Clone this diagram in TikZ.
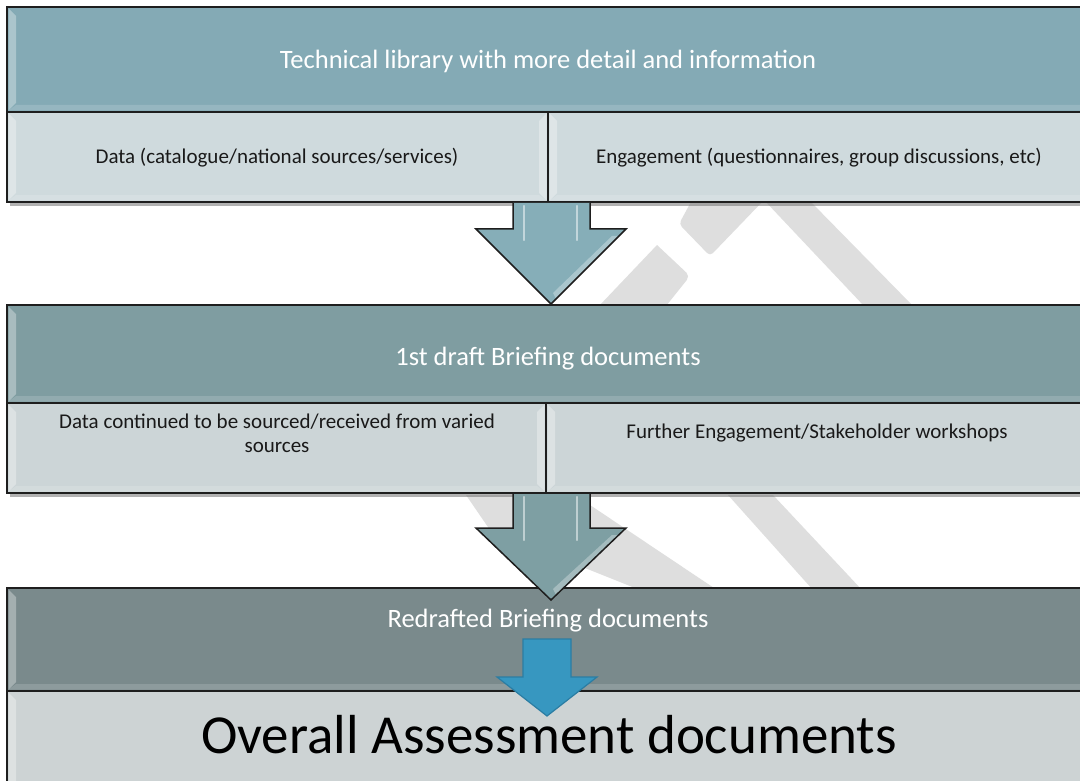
\documentclass[tikz,border=0pt]{standalone}
\usepackage{fontspec}
\setmainfont{Carlito}
\definecolor{hdrA}{HTML}{84AAB5}
\definecolor{subA}{HTML}{CFDADD}
\definecolor{hdrB}{HTML}{7F9DA1}
\definecolor{subB}{HTML}{CCD5D7}
\definecolor{hdrC}{HTML}{7A8A8C}
\definecolor{subC}{HTML}{CDD3D4}
\definecolor{arrA}{HTML}{86AEB8}
\definecolor{arrB}{HTML}{7E9FA3}
\definecolor{blueArr}{HTML}{3797C0}
\definecolor{blueEdge}{HTML}{2B7DA3}
\definecolor{wm}{HTML}{DEDEDE}
\definecolor{edge}{HTML}{1E1E1E}
\newcommand\cellbevel[4]{%
  \fill[bevel] (#1+1.5,#2+1.5) -- (#1+9,#2+9) -- (#1+9,#4-9) -- (#1+1.5,#4-1.5) -- cycle;
  \fill[bevel] (#3-1.5,#2+1.5) -- (#3-9,#2+9) -- (#3-9,#4-9) -- (#3-1.5,#4-1.5) -- cycle;
  \fill[bevelsoft] (#1+1.5,#4-1.5) -- (#1+9,#4-7) -- (#3-9,#4-7) -- (#3-1.5,#4-1.5) -- cycle;
}
\begin{document}
\begin{tikzpicture}[x=1pt,y=-1pt,
 cell/.style={draw=edge,line width=1.5pt,inner sep=0pt,outer sep=0pt,anchor=north west},
 hdrtext/.style={text=white,font=\fontsize{26.5}{30}\selectfont,anchor=base,inner sep=0pt},
 subtext/.style={text=black!90,font=\fontsize{21}{24}\selectfont,anchor=base,inner sep=0pt,align=center},
 bigtext/.style={text=black,font=\fontsize{55}{60}\selectfont,anchor=base,inner sep=0pt},
 blockarrow/.style={draw=edge,line width=1.5pt,line join=miter},
 blockshadow/.style={fill=black!55,opacity=0.55},
 bevel/.style={fill=white,opacity=0.32},
 bevelsoft/.style={fill=white,opacity=0.15},
 gloss/.style={draw=white,opacity=0.5,line width=2.2pt,line cap=round},
 glossband/.style={fill=white,opacity=0.3},
]
\useasboundingbox (0,0) rectangle (1080,781);
\fill[white] (0,0) rectangle (1080,781);

% watermark (visible parts)
\fill[wm] (764,200) -- (809,200) -- (913,306) -- (864,306) -- cycle;
\fill[wm] (692,200) -- (764,200) -- (713,253) [rounded corners=4pt] -- (710,256) -- (679,224) -- cycle;
\fill[wm] [rounded corners=5pt] (657,245) -- (690,276) [sharp corners] -- (666,306) -- (599,306) -- cycle;
\fill[wm] (466,495) -- (575,495) -- (717,590) -- (640,590) -- (490,530) -- cycle;
\fill[wm] (728,495) -- (773,495) -- (862,590) -- (813,590) -- cycle;

% block 1
\fill[blockshadow] (10,11) rectangle (1095,206);
\node[cell,fill=hdrA,minimum width=1083pt,minimum height=105pt] (h1) at (7,7) {};
\node[cell,fill=subA,minimum width=541pt,minimum height=90pt] (s1l) at (7,112) {};
\node[cell,fill=subA,minimum width=542pt,minimum height=90pt] (s1r) at (548,112) {};
\cellbevel{7}{7}{1090}{112}
\cellbevel{7}{112}{548}{202}
\cellbevel{548}{112}{1090}{202}

% block 2
\fill[blockshadow] (10,309) rectangle (1095,497);
\node[cell,fill=hdrB,minimum width=1083pt,minimum height=98pt] (h2) at (7,305) {};
\node[cell,fill=subB,minimum width=539pt,minimum height=90pt] (s2l) at (7,403) {};
\node[cell,fill=subB,minimum width=544pt,minimum height=90pt] (s2r) at (546,403) {};
\cellbevel{7}{305}{1090}{403}
\cellbevel{7}{403}{546}{493}
\cellbevel{546}{403}{1090}{493}

% block 3
\fill[blockshadow] (10,592) rectangle (1095,800);
\node[cell,fill=hdrC,minimum width=1083pt,minimum height=103pt] (h3) at (7,588) {};
\node[cell,fill=subC,minimum width=1083pt,minimum height=110pt] (s3) at (7,691) {};
\cellbevel{7}{588}{1090}{691}
\cellbevel{7}{691}{1090}{801}

% arrow 1
\fill[arrA] (513,203) -- (513,229) -- (476,229) -- (551,304) -- (626,229) -- (590,229) -- (590,203) -- cycle;
\fill[glossband] (612,236) -- (620,236) -- (556,299) -- (553,293) -- cycle;
\draw[blockarrow] (513,203) -- (513,229) -- (476,229) -- (551,304) -- (626,229) -- (590,229) -- (590,203);
\draw[gloss] (524,206) -- (524,240);
\draw[gloss] (577,206) -- (577,240);

% arrow 2
\fill[arrB] (513,494) -- (513,528) -- (476,528) -- (551,600) -- (626,528) -- (590,528) -- (590,494) -- cycle;
\fill[glossband] (612,535) -- (620,535) -- (556,595) -- (553,589) -- cycle;
\draw[blockarrow] (513,494) -- (513,528) -- (476,528) -- (551,600) -- (626,528) -- (590,528) -- (590,494);
\draw[gloss] (524,497) -- (524,540);
\draw[gloss] (577,497) -- (577,540);

% blue arrow
\filldraw[fill=blueArr,draw=blueEdge,line width=1.2pt,line join=miter]
  (523,639) -- (523,677) -- (497,677) -- (547,716) -- (597,677) -- (571,677) -- (571,639) -- cycle;

% texts
\node[hdrtext] (t1) at (548,69) {Technical library with more detail and information};
\node[subtext] (t1l) at (277,164) {Data (catalogue/national sources/services)};
\node[subtext] (t1r) at (819,164) {Engagement (questionnaires, group discussions, etc)};
\node[hdrtext] (t2) at (548,365) {1st draft Briefing documents};
\node[subtext] (t2l) at (277,452) {Data continued to be sourced/received from varied\\sources};
\node[subtext] (t2r) at (817,438) {Further Engagement/Stakeholder workshops};
\node[hdrtext] (t3) at (548,627) {Redrafted Briefing documents};
\node[bigtext] (t4) at (549,753) {Overall Assessment documents};
\end{tikzpicture}
\end{document}
